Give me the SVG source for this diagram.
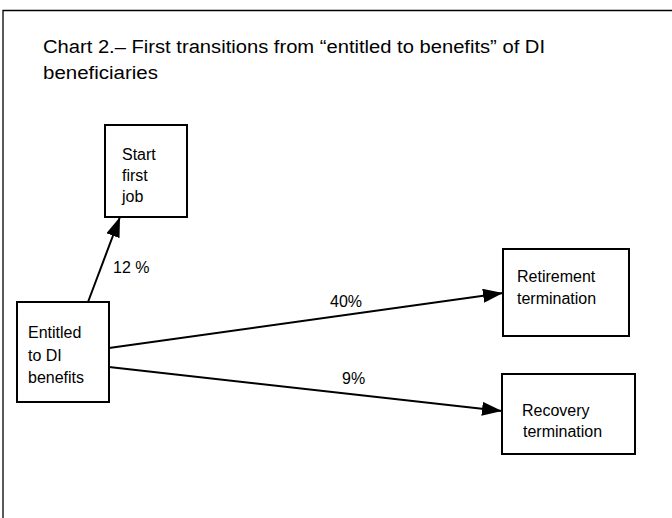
<svg xmlns="http://www.w3.org/2000/svg" width="672" height="518" viewBox="0 0 672 518">
<defs>
<style>
.box{fill:#fff;stroke:#000;stroke-width:2}
.t{font-family:"Liberation Sans",Arial,sans-serif;font-size:16px;fill:#000}
.title{font-family:"Liberation Sans",Arial,sans-serif;font-size:18px;fill:#000}
.edge{stroke:#000;stroke-width:2;fill:none;marker-end:url(#ah)}
.frame{stroke:#000;stroke-width:1.3;fill:none}
</style>
<marker id="ah" markerUnits="userSpaceOnUse" markerWidth="20" markerHeight="14" refX="20" refY="7" orient="auto">
<path d="M0,0 L20,7 L0,14 z" fill="#000"/>
</marker>
</defs>
<rect width="672" height="518" fill="#fff"/>
<path class="frame" d="M3,518 L3,10.5 L672,10.5"/>
<g id="title">
<text class="title" x="43" y="53" textLength="502" lengthAdjust="spacingAndGlyphs">Chart 2.– First transitions from “entitled to benefits” of DI</text>
<text class="title" x="43" y="79" textLength="115" lengthAdjust="spacingAndGlyphs">beneficiaries</text>
</g>
<g id="connectors">
<line class="edge" x1="88" y1="302" x2="120" y2="217"/>
<line class="edge" x1="109" y1="348" x2="503" y2="293"/>
<line class="edge" x1="109" y1="367" x2="502" y2="411"/>
<text class="t" x="113" y="273">12 %</text>
<text class="t" x="330" y="307">40%</text>
<text class="t" x="342" y="384">9%</text>
</g>
<g id="start-first-job">
<rect class="box" x="105" y="125" width="82" height="92"/>
<text class="t" x="122" y="160">Start</text>
<text class="t" x="122" y="181">first</text>
<text class="t" x="122" y="202">job</text>
</g>
<g id="entitled">
<rect class="box" x="17" y="302" width="92" height="100"/>
<text class="t" x="28" y="338">Entitled</text>
<text class="t" x="28" y="361">to DI</text>
<text class="t" x="28" y="383">benefits</text>
</g>
<g id="retirement">
<rect class="box" x="503" y="249" width="126" height="87"/>
<text class="t" x="517" y="282">Retirement</text>
<text class="t" x="517" y="304">termination</text>
</g>
<g id="recovery">
<rect class="box" x="502" y="374" width="133" height="80"/>
<text class="t" x="522" y="416">Recovery</text>
<text class="t" x="523" y="437">termination</text>
</g>
</svg>
